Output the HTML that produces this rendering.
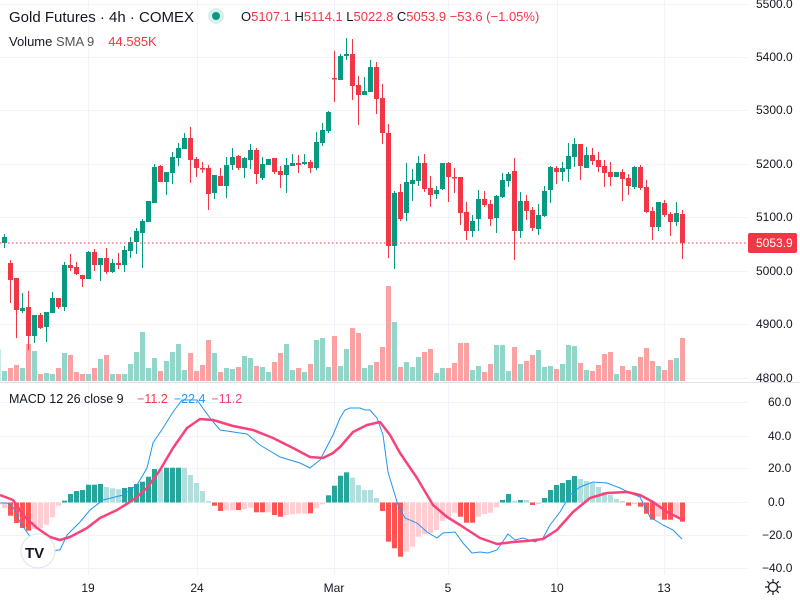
<!DOCTYPE html>
<html><head><meta charset="utf-8"><style>
html,body{margin:0;padding:0;background:#fff;width:800px;height:600px;overflow:hidden}
svg{display:block;font-family:"Liberation Sans",sans-serif}
</style></head><body>
<svg id="s" width="800" height="600" xmlns="http://www.w3.org/2000/svg">
<g id="grid" stroke="#f0f3fa" stroke-width="1"></g>
<g id="vol"></g><g id="cnd"></g><g id="hist"></g>
<line x1="0" y1="243" x2="748" y2="243" stroke="#f23645" stroke-width="1" stroke-dasharray="1.5,2.5"/>
<polyline id="blue" fill="none" stroke="#2196f3" stroke-width="1"/>
<polyline id="pink" fill="none" stroke="#f7437a" stroke-width="2.5" stroke-linejoin="round"/>
<line x1="0" y1="382.5" x2="800" y2="382.5" stroke="#e0e3eb"/>
<rect x="748" y="233" width="49" height="20" rx="2" fill="#f23645"/>
<text x="756" y="247" font-size="12" fill="#fff">5053.9</text>
<g font-size="12" fill="#131722" id="ax"></g>
<text x="9" y="22" font-size="15" fill="#131722">Gold Futures · 4h · COMEX</text>
<circle cx="216" cy="16" r="8" fill="#d9f0ec"/><circle cx="216" cy="16" r="4" fill="#089981"/>
<text x="241" y="21" font-size="13" fill="#131722">O<tspan fill="#f23645">5107.1</tspan> H<tspan fill="#f23645">5114.1</tspan> L<tspan fill="#f23645">5022.8</tspan> C<tspan fill="#f23645">5053.9 −53.6 (−1.05%)</tspan></text>
<text x="9" y="46" font-size="13" fill="#131722">Volume <tspan fill="#555">SMA 9</tspan><tspan dx="14" fill="#f23645">44.585K</tspan></text>
<text x="9" y="403" font-size="12.5" fill="#131722">MACD 12 26 close 9 <tspan dx="10" fill="#f23645">−11.2</tspan><tspan dx="6" fill="#2196f3">−22.4</tspan><tspan dx="6" fill="#f7437a">−11.2</tspan></text>
<circle cx="38" cy="551" r="17" fill="#fff" stroke="#e0e3eb"/>
<text x="25" y="558" font-size="15" font-weight="bold" fill="#131722">TV</text>
<g font-size="12" fill="#131722" text-anchor="middle">
<text x="88" y="592">19</text><text x="197" y="592">24</text><text x="334" y="592">Mar</text><text x="448" y="592">5</text><text x="557" y="592">10</text><text x="664" y="592">13</text>
</g>
<g stroke="#131722" stroke-width="1.2" fill="none">
<circle cx="773" cy="587" r="4.5"/>
<path d="M773 579v3M773 592v3M765 587h3M778 587h3M767.3 581.3l2 2M776.7 590.7l2 2M767.3 592.7l2-2M776.7 583.3l2-2"/>
</g>
</svg>
<script>
var NS="http://www.w3.org/2000/svg";
function el(p,t,a){var e=document.createElementNS(NS,t);for(var k in a)e.setAttribute(k,a[k]);document.getElementById(p).appendChild(e);return e;}
[4,57,110,164,217,271,324,378,402,436,468,502,535,568].forEach(function(y){el("grid","line",{x1:0,x2:748,y1:y+.5,y2:y+.5});});
[88,197,334,448,557,664].forEach(function(x){el("grid","line",{x1:x+.5,x2:x+.5,y1:0,y2:575});});
var ax=[["5500.0",4],["5400.0",57],["5300.0",110],["5200.0",164],["5100.0",217],["5000.0",271],["4900.0",324],["4800.0",378],["60.0",402],["40.0",436],["20.0",468],["0.0",502],["−20.0",535],["−40.0",568]];
ax.forEach(function(a){var t=el("ax","text",{x:a[0].length>5?756:(a[0].length>4?762:768),y:a[1]+4});t.textContent=a[0];});
var C="g 237 243 234 248|r 263 280 260 303|r 278 310 278 338|g 308 311 293 313|r 307 336 291 350|g 315 336 315 343|r 315 328 313 329|g 312 327 312 342|g 298 313 292 313|r 298 307 298 309|g 265 307 262 311|r 265 268 254 271|r 267 274 262 275|r 275 279 275 287|g 252 279 251 279|r 252 265 249 271|g 258 265 258 281|r 258 272 248 274|g 263 272 259 273|r 263 265 253 269|g 250 265 246 272|g 242 251 237 258|g 231 242 228 254|g 221 233 219 268|g 201 222 201 222|g 167 203 164 203|r 166 182 165 182|g 172 182 172 195|g 157 173 152 184|g 148 158 143 166|g 138 149 133 149|r 138 160 127 183|r 159 168 157 177|r 168 169 162 173|r 168 194 165 210|g 175 193 175 199|r 176 186 168 186|g 165 186 157 198|g 157 165 148 170|r 156 168 155 170|g 158 168 157 178|g 150 160 144 169|r 150 174 148 184|g 164 178 157 180|g 159 165 159 165|r 158 172 158 174|r 171 175 166 188|g 165 175 158 193|g 163 166 154 166|r 163 165 155 173|g 162 164 154 165|r 162 168 160 173|g 142 168 132 170|g 130 143 123 146|g 112 131 111 133|r 78 79 51 102|g 56 80 54 80|g 54 56 38 60|r 54 86 39 100|r 85 95 76 125|g 91 95 77 95|g 67 92 60 92|r 67 99 62 114|r 98 133 84 144|r 133 246 124 258|g 193 246 191 269|r 192 219 184 221|g 182 213 163 221|g 180 184 169 201|g 163 181 156 186|r 163 189 154 192|r 188 195 176 207|g 190 194 186 199|g 163 189 163 190|r 163 177 162 202|r 177 178 168 193|r 177 213 177 225|r 212 231 202 240|g 221 231 215 237|g 199 219 190 231|r 199 205 191 207|r 204 219 200 226|g 196 218 195 233|g 180 197 173 198|g 174 181 172 187|r 171 231 158 260|g 201 231 192 238|r 201 211 195 220|r 210 228 207 231|g 215 229 204 235|g 191 216 186 217|g 167 190 166 203|r 168 172 166 184|g 168 172 162 181|g 156 169 143 182|g 144 157 138 167|r 144 166 144 180|g 155 168 147 168|r 155 161 148 165|r 160 167 152 172|r 166 173 160 187|r 172 177 162 186|g 172 177 172 177|r 172 179 169 201|r 178 186 174 195|g 167 187 166 189|r 167 188 165 190|r 187 212 180 213|r 211 227 207 240|g 202 227 202 231|r 203 215 200 217|r 214 222 212 236|g 213 222 202 226|r 214 243 210 259".split("|");
var V=[371,368,365,368,344,351,374,373,374,368,353,355,372,374,374,368,359,355,374,374,374,364,352,332,368,358,371,361,352,344,370,353,371,365,340,353,372,368,369,367,356,358,366,367,372,362,353,344,370,368,372,364,340,338,367,336,366,349,328,333,368,365,362,347,286,322,367,362,367,357,352,349,373,368,368,363,343,343,370,366,372,364,345,345,371,347,364,361,355,350,367,366,369,364,345,346,363,370,371,365,354,352,374,366,370,366,357,348,361,366,370,360,358,338];
el("vol","rect",{x:-4.5,y:349,width:5,height:32,fill:"#92d5c9"});
C.forEach(function(s,i){var a=s.split(" "),x=4+6*i,up=a[0]=="g",col=up?"#089981":"#f23645";
var t=+a[1],b=+a[2];if(b-t<1.5)b=t+1.5;
el("cnd","line",{x1:x+.5,x2:x+.5,y1:a[3],y2:a[4],stroke:col,"stroke-width":1});
el("cnd","rect",{x:x-2,y:t,width:5,height:b-t,fill:col});
el("vol","rect",{x:x-2,y:V[i],width:5,height:381-V[i],fill:up?"#92d5c9":"#faa1a4"});});
var H="r508 R515.7 R523 R528 R530.7 r529 r528.3 r524.7 r517.3 r505.7 G500.7 G494 G491 G490 G484.7 G484.7 G484 g487 g488.3 g489.3 G488 G487 G484 G481.7 G476.7 G469 g469 G467.7 G467.7 G467.7 g467.7 g475 g483 g491 g501 R505.7 R511 r510.3 r510.3 R510 r509.3 r507.7 R512.3 R512.3 r512.3 R515 R516.7 r515 r514.3 r513.7 r513.7 R513.3 r508.3 r504.3 G495.3 G485.7 G475.7 G472.3 g477.7 g485 g490 g490 g498 R511 R541.7 R548.3 R556.7 r551.7 r546.7 r536.7 r534.3 r533.3 r530 r521 r517.7 r512.7 R516.7 R522.7 R522.7 r516.7 r514 r512.7 r507.3 G500 G494 g500.7 G500 g500 R505 r504 G498 G490 G485 G483 G480 G476 g479 g481 g483 g487 g492 g495 g499 g501 R505.7 r504 R506.7 R513.7 R519.7 r516.7 R519.7 R519.7 r516.7 R521.7".split(" ");
var HC={G:"#26a69a",g:"#b2dfdb",R:"#ff5252",r:"#ffcdd2"};
H.forEach(function(s,i){var y=+s.slice(1),z=502.5,x=4+6*i;el("hist","rect",{x:x-2,y:Math.min(y,z),width:5,height:Math.max(Math.abs(y-z),1),fill:HC[s[0]]});});
document.getElementById("blue").setAttribute("points","0,503 7,503 13,507 20,522 33,541 40,553 47,555 57,550 60,550 67,535 80,522 90,510 103,500 123,495 137,485 147,468 153,443 163,428 173,412 182,400 197,400 210,418 220,430 247,434 260,445 280,457 300,463 310,468 320,460 333,435 340,418 345,410 350,408 360,408 365,410 370,410 377,418 383,435 388,472 398,505 405,518 417,523 427,532 437,538 443,533 455,532 463,543 472,553 480,552 488,553 497,550 508,534 515,540 523,538 535,542 543,538 550,525 560,512 570,495 580,487 593,482 607,483 620,488 630,493 640,497 650,517 663,525 673,530 682,539");
document.getElementById("pink").setAttribute("points","0,495 13,500 23,515 37,528 50,537 60,540 70,537 87,528 100,518 117,510 133,500 147,488 160,470 173,448 187,428 200,419 213,420 233,426 253,430 273,438 293,448 310,457 323,458 333,453 340,447 353,432 367,425 380,422 390,435 400,453 417,478 433,505 447,517 460,525 480,538 497,544 513,542 527,541 543,539 557,530 573,512 590,498 607,493 627,492 640,495 653,502 667,512 683,520");
</script>
</body></html>
